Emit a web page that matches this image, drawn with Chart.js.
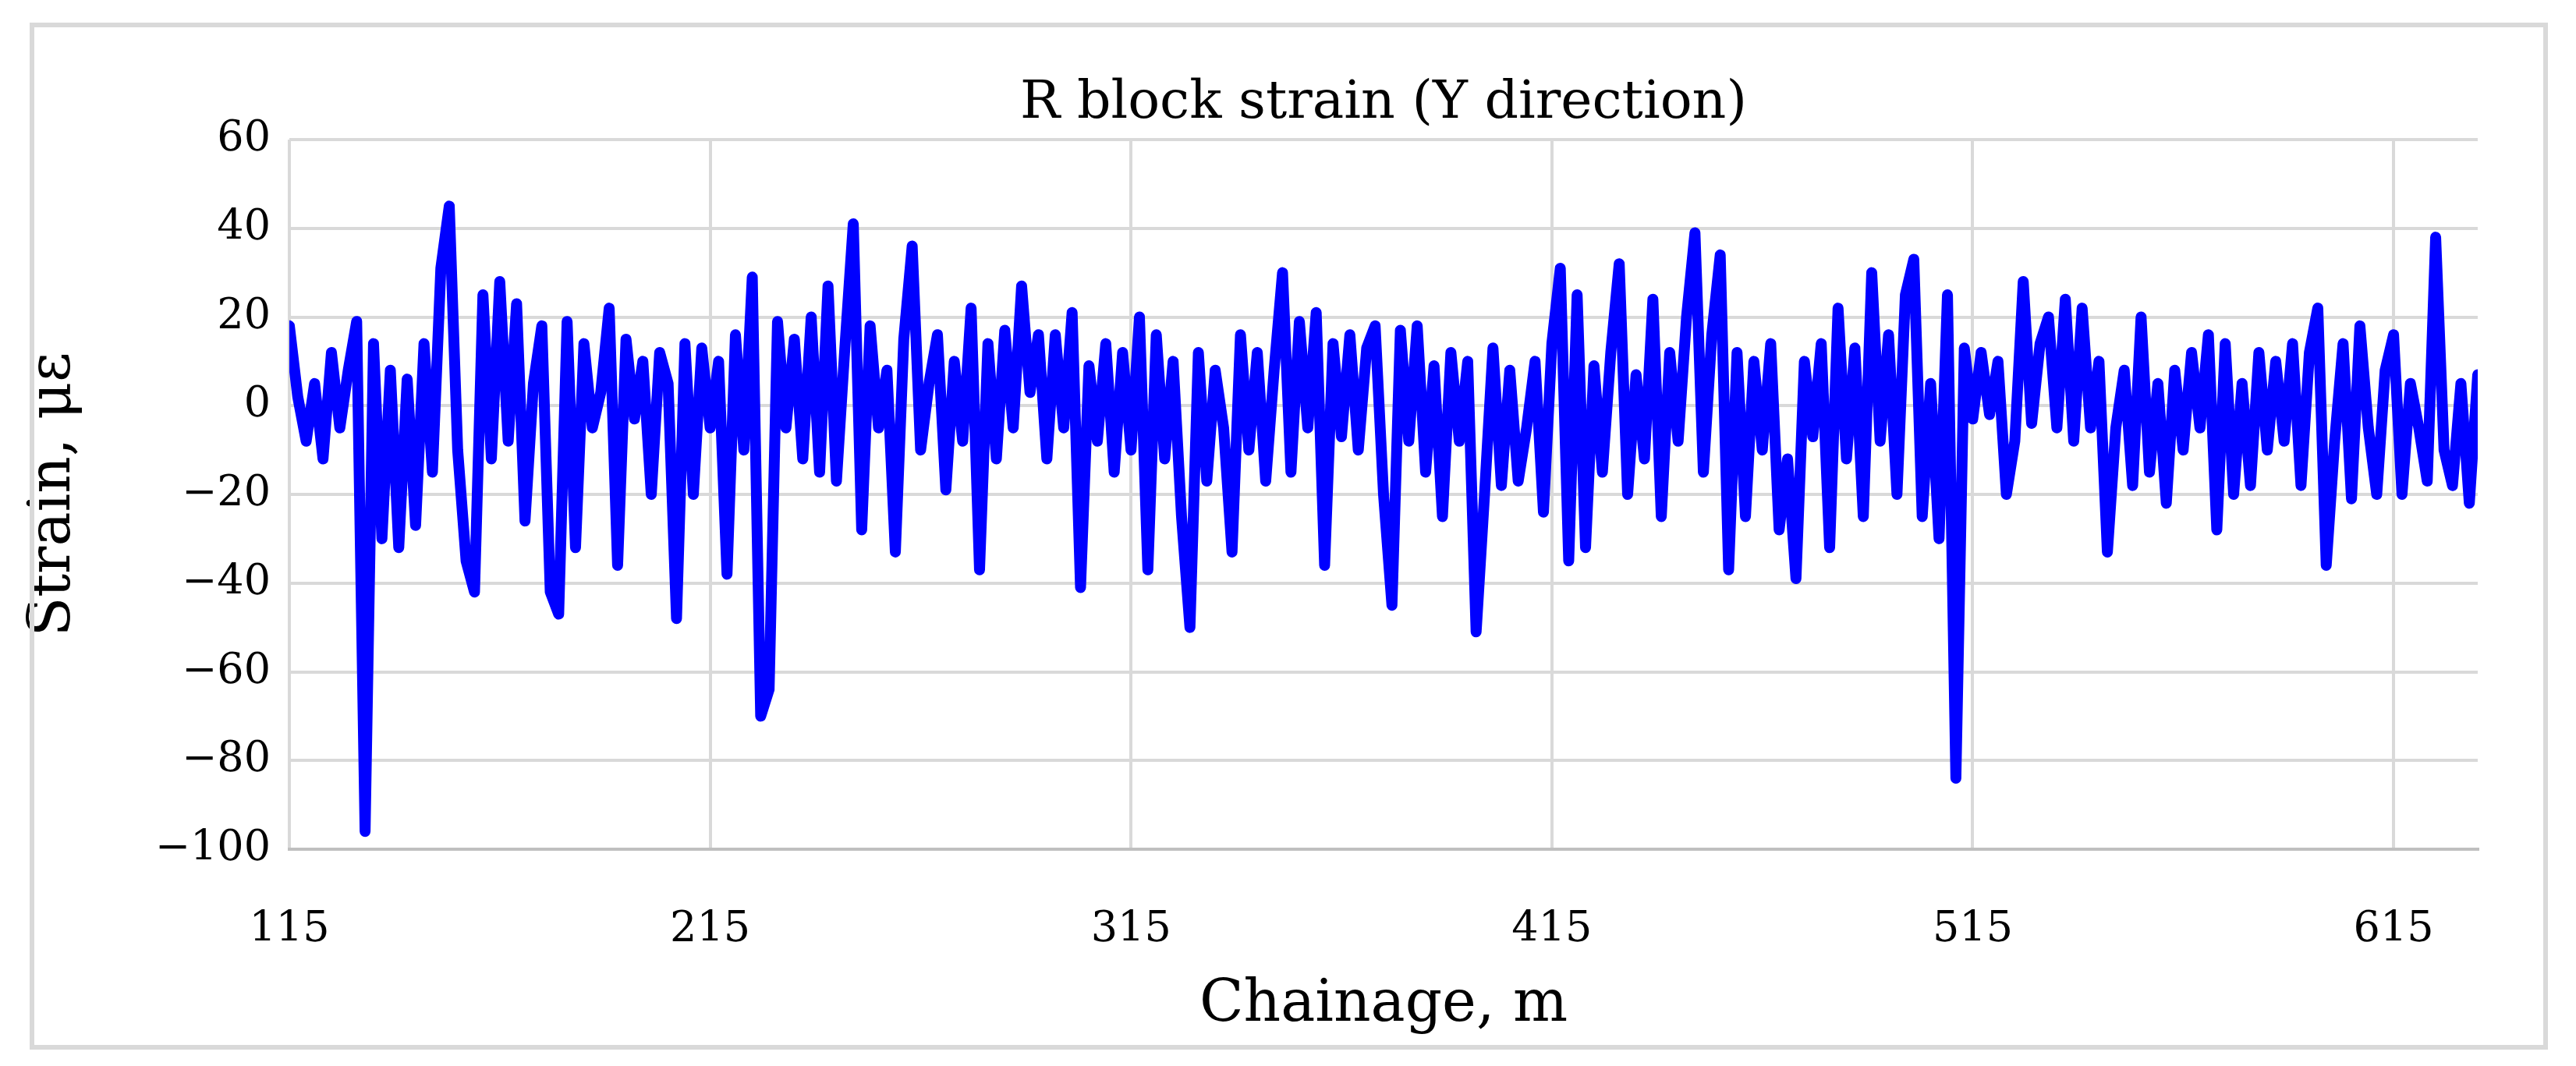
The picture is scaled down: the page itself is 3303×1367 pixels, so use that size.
<!DOCTYPE html>
<html><head><meta charset="utf-8">
<script src="https://cdn.jsdelivr.net/npm/chart.js@4"></script>
<style>
html,body{margin:0;padding:0;background:#fff;}
#wrap{position:absolute;left:0;top:0;width:3303px;height:1367px;}
#frame{position:absolute;left:38px;top:29px;width:3217px;height:1305px;border:6px solid #d9d9d9;}
</style></head><body>
<div id="wrap"><div id="frame"></div><canvas id="c" width="3303" height="1367"></canvas></div>
<script>
const chartTitle = "R block strain (Y direction)";
const xTitle = "Chainage, m";
const yTitle = "Strain, με";
const chainageStart = 115, chainageStep = 2;
const strain = [
18,2,-8,5,-12,12,-5,8,19,-96,
14,-30,8,-32,6,-27,14,-15,31,45,
-10,-35,-42,25,-12,28,-8,23,-26,5,
18,-42,-47,19,-32,14,-5,3,22,-36,
15,-3,10,-20,12,5,-48,14,-20,13,
-5,10,-38,16,-10,29,-70,-64,19,-5,
15,-12,20,-15,27,-17,13,41,-28,18,
-5,8,-33,15,36,-10,5,16,-19,10,
-8,22,-37,14,-12,17,-5,27,3,16,
-12,16,-5,21,-41,9,-8,14,-15,12,
-10,20,-37,16,-12,10,-25,-50,12,-17,
8,-5,-33,16,-10,12,-17,8,30,-15,
19,-5,21,-36,14,-7,16,-10,13,18,
-20,-45,17,-8,18,-15,9,-25,12,-8,
10,-51,-20,13,-18,8,-17,-5,10,-24,
14,31,-35,25,-32,9,-15,12,32,-20,
7,-12,24,-25,12,-8,20,39,-15,16,
34,-37,12,-25,10,-10,14,-28,-12,-39,
10,-7,14,-32,22,-12,13,-25,30,-8,
16,-20,25,33,-25,5,-30,25,-84,13,
-3,12,-2,10,-20,-8,28,-4,14,20,
-5,24,-8,22,-5,10,-33,-5,8,-18,
20,-15,5,-22,8,-10,12,-5,16,-28,
14,-20,5,-18,12,-10,10,-8,14,-18,
12,22,-36,-8,14,-21,18,-5,-20,8,
16,-20,5,-5,-17,38,-10,-18,5,-22,
7];
const xTicks = [115,215,315,415,515,615];
const yMin = -100, yMax = 60, yStep = 20;
const chainage = strain.map((_, i) => chainageStart + chainageStep * i);
const points = strain.map((v, i) => ({x: chainage[i], y: v}));

const FONT = "'DejaVu Serif', serif";
const titlePlugin = {
  id: 'texts',
  afterDraw(chart) {
    const ctx = chart.ctx, a = chart.chartArea;
    ctx.save();
    ctx.fillStyle = '#000';
    ctx.textAlign = 'center';
    ctx.textBaseline = 'middle';
    ctx.font = "68px " + FONT;
    ctx.fillText(chartTitle, (a.left + a.right) / 2, 133);
    ctx.font = "74px " + FONT;
    ctx.fillText(xTitle, (a.left + a.right) / 2, 1290);
    ctx.translate(70, (a.top + a.bottom) / 2);
    ctx.rotate(-Math.PI / 2);
    ctx.fillText(yTitle, 0, 0);
    ctx.restore();
  }
};
new Chart(document.getElementById('c'), {
  type: 'line',
  data: { datasets: [{ data: points, borderColor: '#0000ff', borderWidth: 14, pointRadius: 0, tension: 0, fill: false, borderJoinStyle: 'round', borderCapStyle: 'round' }] },
  options: {
    responsive: false, animation: false, devicePixelRatio: 1,
    layout: { padding: { top: 179, right: 126, left: 0, bottom: 0 } },
    plugins: { legend: { display: false }, tooltip: { enabled: false } },
    scales: {
      x: {
        type: 'linear', min: chainageStart, max: 635,
        afterBuildTicks(axis) { axis.ticks = xTicks.map(v => ({ value: v })); },
        grid: { color: '#d9d9d9', lineWidth: 4, drawTicks: false },
        border: { color: '#bfbfbf', width: 4 },
        ticks: { font: { family: FONT, size: 54 }, color: '#000', padding: 72, maxRotation: 0 },
        afterFit(axis) { axis.height = 1367 - 1089; }
      },
      y: {
        min: yMin, max: yMax,
        ticks: { stepSize: yStep, font: { family: FONT, size: 54 }, color: '#000', padding: 24,
          callback: v => v < 0 ? '\u2212' + Math.abs(v) : String(v) },
        grid: { color: '#d9d9d9', lineWidth: 4, drawTicks: false },
        border: { display: false },
        afterFit(axis) { axis.width = 371; }
      }
    }
  },
  plugins: [titlePlugin]
});
</script></body></html>
